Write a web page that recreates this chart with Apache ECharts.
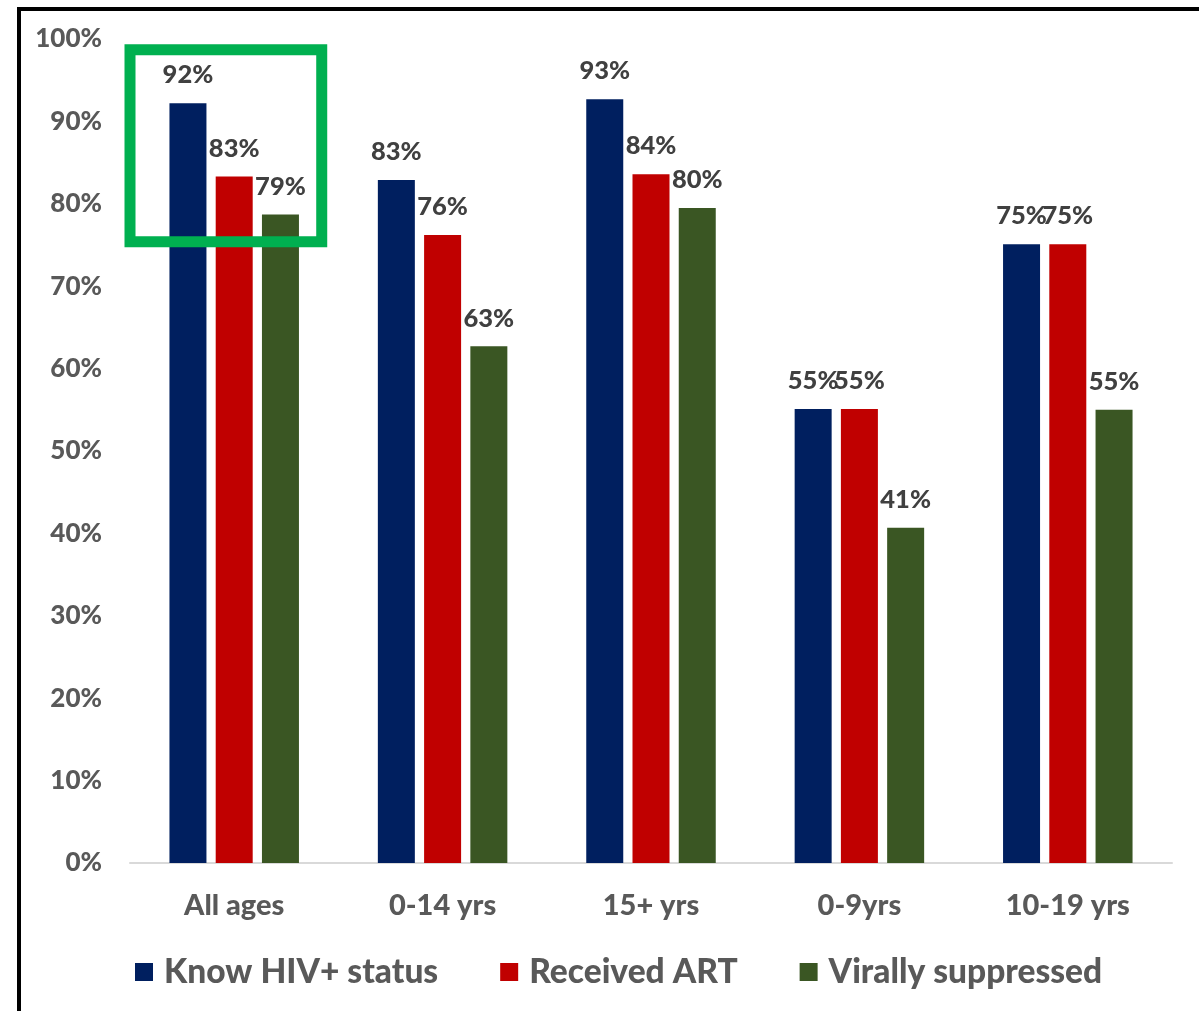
<!DOCTYPE html>
<html>
<head>
<meta charset="utf-8">
<script src="https://cdn.jsdelivr.net/npm/echarts@6/dist/echarts.min.js"></script>
<style>
html,body{margin:0;padding:0;background:#fff;}
#c{width:1199px;height:1011px;}
</style>
</head>
<body>
<div id="c"></div>
<script>
const categories = ['All ages', '0-14 yrs', '15+ yrs', '0-9yrs', '10-19 yrs'];
const knowStatus = [92.2, 82.9, 92.7, 55.1, 75.1];
const receivedART = [83.3, 76.2, 83.6, 55.1, 75.1];
const virallySuppressed = [78.7, 62.7, 79.5, 40.7, 55.0];
const seriesNames = ['Know HIV+ status', 'Received ART', 'Virally suppressed'];
const colors = ['#001f5f', '#c00000', '#3a5623'];
const highlightTop = 98.7, highlightBottom = 75.4;

const chart = echarts.init(document.getElementById('c'));
const FONT = 'Lato';
const W = 900;
const labelCfg = {
  show: true, position: 'top', distance: 15,
  formatter: p => Math.round(p.value) + '%',
  fontFamily: FONT, fontWeight: W, fontSize: 25.5, color: '#404040'
};
function mk(name, data, color) {
  return {
    name, type: 'bar', data, barWidth: 37, barGap: '25%',
    itemStyle: { color }, label: labelCfg, emphasis: { disabled: true }
  };
}
chart.setOption({
  animation: false,
  color: colors,
  grid: { left: 130, right: 27, top: 39, bottom: 148 },
  legend: {
    data: seriesNames, left: 130, top: 950, icon: 'rect',
    itemWidth: 18, itemHeight: 18, itemGap: 62,
    textStyle: { fontFamily: FONT, fontWeight: W, fontSize: 33.5, color: '#595959', padding: [0, 0, 0, 6] }
  },
  xAxis: {
    type: 'category', data: categories,
    axisLine: { lineStyle: { color: '#d9d9d9', width: 2 } },
    axisTick: { show: false },
    axisLabel: { margin: 28, fontFamily: FONT, fontWeight: W, fontSize: 29, color: '#595959' }
  },
  yAxis: {
    type: 'value', min: 0, max: 100, interval: 10,
    splitLine: { show: false }, axisLine: { show: false }, axisTick: { show: false },
    axisLabel: { formatter: '{value}%', margin: 28, fontFamily: FONT, fontWeight: W, fontSize: 26, color: '#595959' }
  },
  series: [
    mk(seriesNames[0], knowStatus, colors[0]),
    mk(seriesNames[1], receivedART, colors[1]),
    mk(seriesNames[2], virallySuppressed, colors[2])
  ]
});

const c0 = chart.convertToPixel({ xAxisIndex: 0 }, categories[0]);
const c1 = chart.convertToPixel({ xAxisIndex: 0 }, categories[1]);
const band = c1 - c0;
const yT = chart.convertToPixel({ yAxisIndex: 0 }, highlightTop);
const yB = chart.convertToPixel({ yAxisIndex: 0 }, highlightBottom);
const x0 = c0 - band * 0.5, x1 = c0 + band * 0.42;
chart.setOption({
  graphic: [
    { type: 'rect', shape: { x: x0, y: yT, width: x1 - x0, height: yB - yT },
      style: { fill: 'none', stroke: '#00b050', lineWidth: 11 }, z: 100 },
    { type: 'polyline', shape: { points: [[19, 1011], [19, 9], [1199, 9]] },
      style: { fill: 'none', stroke: '#000', lineWidth: 4 }, z: 100 }
  ]
});
</script>
</body>
</html>
